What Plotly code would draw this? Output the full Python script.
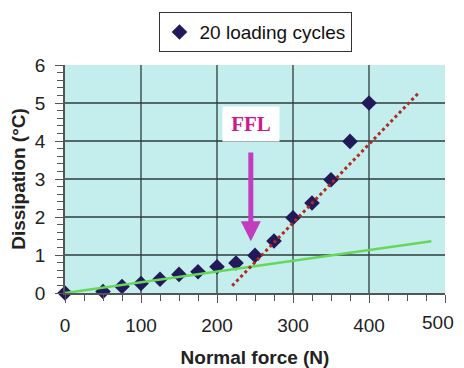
import plotly.graph_objects as go

# Data
force = [0, 50, 75, 100, 125, 150, 175, 200, 225, 250, 275, 300, 325, 350, 375, 400]
dissipation = [0.0, 0.04, 0.17, 0.25, 0.36, 0.49, 0.56, 0.69, 0.79, 0.99, 1.37, 1.98, 2.37, 2.98, 3.99, 5.0]

green_x = [0, 482]
green_y = [0.0, 1.36]
red_x = [220, 465]
red_y = [0.19, 5.26]

ffl_x = 244.5
ffl_label_y = 4.45
arrow_top_y = 3.74
arrow_tip_y = 1.36

x_ticks = [0, 100, 200, 300, 400, 500]
x_ticktext = ["0", "100", "200", "300", "400", ""]
x_last_label = "500"
y_ticks = [0, 1, 2, 3, 4, 5, 6]
grid_x = [100, 200, 300, 400]
grid_y = [1, 2, 3, 4, 5]

font = "Liberation Sans, Arial, sans-serif"
grid_c = "#2e3b3b"
axis_c = "#555555"

fig = go.Figure()
fig.add_trace(go.Scatter(
    x=force, y=dissipation, mode="markers", name="20 loading cycles",
    marker=dict(symbol="diamond", size=12, color="#22195a"),
    cliponaxis=False,
))
fig.add_trace(go.Scatter(
    x=green_x, y=green_y, mode="lines", showlegend=False,
    line=dict(color="#66d858", width=2.5),
))
fig.add_trace(go.Scatter(
    x=red_x, y=red_y, mode="lines", showlegend=False,
    line=dict(color="#b02a1e", width=3, dash="3px,3px"),
))

for gx in grid_x:
    fig.add_shape(type="line", xref="x", yref="y", x0=gx, x1=gx, y0=0, y1=6,
                  line=dict(color=grid_c, width=1.3), layer="below")
for gy in grid_y:
    fig.add_shape(type="line", xref="x", yref="y", x0=0, x1=500, y0=gy, y1=gy,
                  line=dict(color=grid_c, width=1.3), layer="below")

fig.add_annotation(
    x=ffl_x, y=arrow_tip_y, ax=ffl_x, ay=arrow_top_y, axref="x", ayref="y",
    xref="x", yref="y", text="", showarrow=True,
    arrowhead=2, arrowsize=0.8, arrowwidth=5, arrowcolor="#c23cc0",
)
fig.add_annotation(
    x=ffl_x, y=ffl_label_y, xref="x", yref="y", text="<b>FFL</b>",
    showarrow=False, bgcolor="white", borderpad=5, width=46,
    font=dict(family="Liberation Serif, Times New Roman, serif", size=21, color="#cc1a88"),
)
# last x tick label is pulled inward, as in the original chart
fig.add_annotation(
    x=x_ticks[-1], y=0, xref="x", yref="paper", text=x_last_label,
    showarrow=False, xanchor="center", yanchor="middle", xshift=-7, yshift=-29,
    font=dict(size=19, color="#222222"),
)

# The page body adds an 8px margin; the figure is offset to compensate.
fig.update_layout(
    width=448, height=360,
    margin=dict(l=57, r=11, t=57, b=75, autoexpand=False),
    paper_bgcolor="white", plot_bgcolor="#c3eeed",
    font=dict(family=font, size=19, color="#222222"),
    showlegend=True,
    legend=dict(
        x=0.5, xanchor="center", y=1.232, yanchor="top",
        bordercolor="#333333", borderwidth=1, bgcolor="white",
        font=dict(size=19, color="#111111"), itemwidth=30,
        tracegroupgap=0,
    ),
)
fig.update_xaxes(
    range=[0, 500], tickvals=x_ticks, ticktext=x_ticktext, showgrid=False, automargin=False,
    showline=True, linecolor=axis_c, linewidth=1.5, zeroline=False,
    ticks="outside", ticklen=8, tickcolor=axis_c, ticklabelstandoff=6,
    tickfont=dict(size=19),
    minor=dict(dtick=25, ticks="outside", ticklen=6, tickcolor=axis_c, showgrid=False),
    title=dict(text="<b>Normal force (N)</b>", font=dict(size=19), standoff=18),
)
fig.update_yaxes(
    range=[0, 6], tickvals=y_ticks, showgrid=False, automargin=False,
    showline=True, linecolor=axis_c, linewidth=1.5, zeroline=False,
    ticks="outside", ticklen=8, tickcolor=axis_c, ticklabelstandoff=6,
    tickfont=dict(size=19),
    minor=dict(dtick=0.2, ticks="outside", ticklen=6, tickcolor=axis_c, showgrid=False),
    title=dict(text="<b>Dissipation (°C)</b>", font=dict(size=19), standoff=10),
)

fig.write_html("out.html")
